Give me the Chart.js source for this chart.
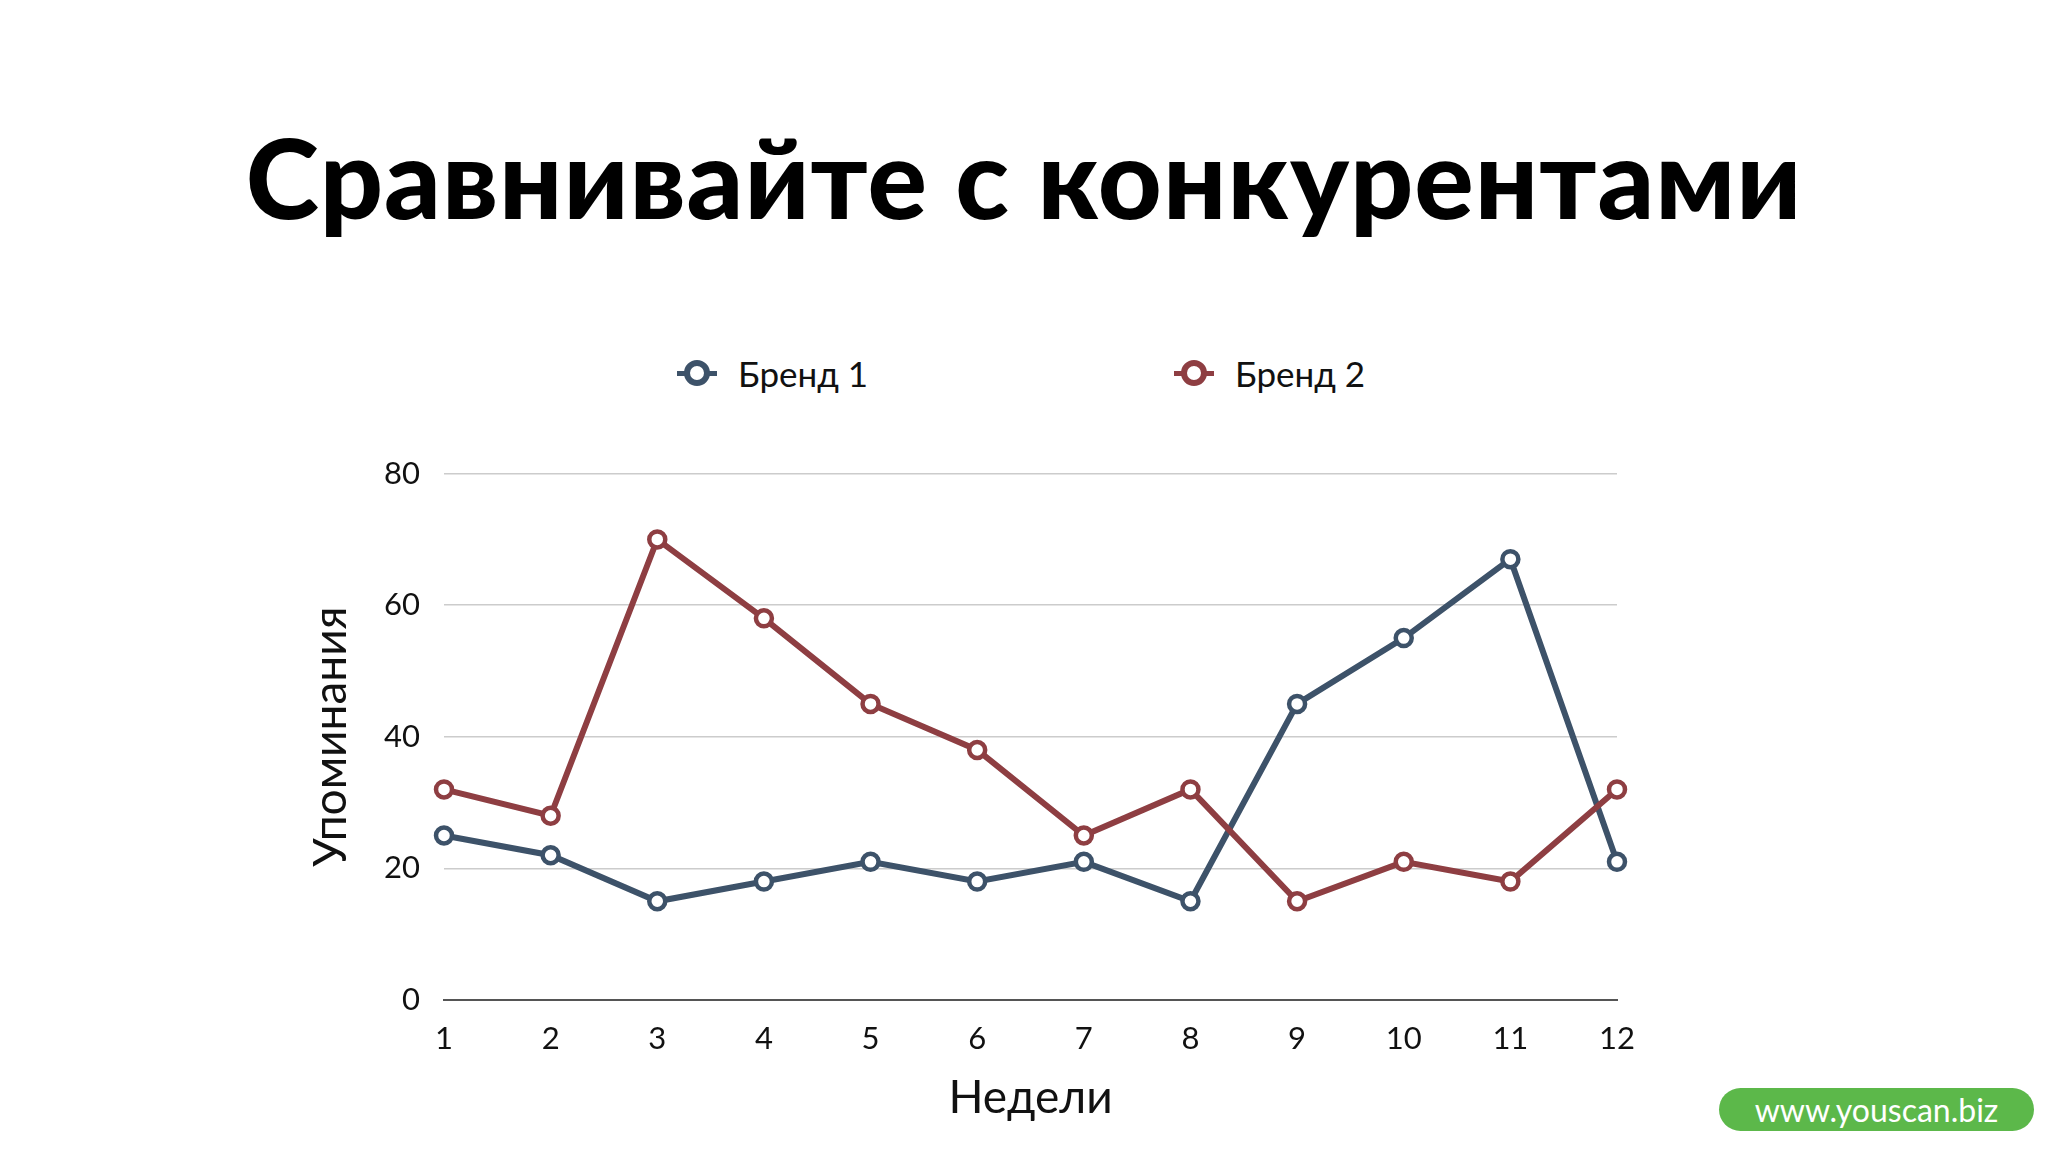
<!DOCTYPE html>
<html><head><meta charset="utf-8">
<script src="https://cdn.jsdelivr.net/npm/chart.js@4"></script>
<style>
body{margin:0;width:2048px;height:1152px;background:#fff;position:relative;overflow:hidden;font-family:Lato,"Open Sans",sans-serif}
#title{position:absolute;top:109px;left:0;width:2048px;text-align:center;font-size:111px;font-weight:900;color:#000;letter-spacing:1px}
#legend{position:absolute;top:352px;left:0;width:2048px;font-size:35px;color:#111}
.li{position:absolute;display:flex;align-items:center;gap:28px}
.dot{width:26px;height:26px;border-radius:50%;border:6px solid;box-sizing:border-box;position:relative;background:#fff}
.seg{position:absolute;width:40px;height:5px;margin-left:-7px}
#wm{position:absolute;left:1719px;top:1088px;width:315px;height:43px;border-radius:22px;background:#5cb84a;color:#fff;font-size:32px;text-align:center;line-height:43px}
#wrap{position:absolute;left:300px;top:431px;width:1347px;height:699px}
</style></head><body>
<div id="title">Сравнивайте с конкурентами</div>
<div id="legend">
<div class="li" style="left:684px"><span class="seg" style="background:#3d5269"></span><span class="dot" style="border-color:#3d5269"></span><span>Бренд 1</span></div>
<div class="li" style="left:1181px"><span class="seg" style="background:#8e3e42"></span><span class="dot" style="border-color:#8e3e42"></span><span>Бренд 2</span></div>
</div>
<div id="wrap"><canvas id="c"></canvas></div>
<div id="wm">www.youscan.biz</div>
<script>
const weeks = ['1','2','3','4','5','6','7','8','9','10','11','12'];
const brand1 = [25,22,15,18,21,18,21,15,45,55,67,21];
const brand2 = [32,28,70,58,45,38,25,32,15,21,18,32];
const blue = '#3d5269', red = '#8e3e42';

function ds(label, data, color){
  return {label, data, borderColor: color, backgroundColor: '#fff', borderWidth: 6,
    pointRadius: 8, pointBorderWidth: 4.5, pointBackgroundColor: '#fff', pointBorderColor: color, tension: 0};
}

new Chart(document.getElementById('c'), {
  type: 'line',
  data: {labels: weeks, datasets: [ds('Бренд 2', brand2, red), ds('Бренд 1', brand1, blue)]},
  options: {
    responsive: true, maintainAspectRatio: false, animation: false,
    layout: {padding: {top: 20, right: 30, left: 0, bottom: 0}},
    plugins: {legend: {display: false}, tooltip: {enabled: false}},
    scales: {
      x: {
        offset: false,
        grid: {display: false}, border: {color: '#555', width: 2},
        ticks: {color: '#111', font: {family: 'Lato', size: 31}, padding: 12},
        title: {display: true, text: 'Недели', color: '#111', font: {family: 'Lato', size: 46}, padding: {top: 26}},
        afterFit: s => { s.height = 130; }
      },
      y: {
        min: 0, max: 80,
        ticks: {stepSize: 20, color: '#111', font: {family: 'Lato', size: 31}, padding: 24},
        grid: {color: '#cccccc', lineWidth: 1.5, drawTicks: false}, border: {display: false},
        title: {display: true, text: 'Упоминания', color: '#111', font: {family: 'Lato', size: 46}, padding: {bottom: 8}},
        afterFit: s => { s.width = 144; }
      }
    }
  }
});
</script>
</body></html>
